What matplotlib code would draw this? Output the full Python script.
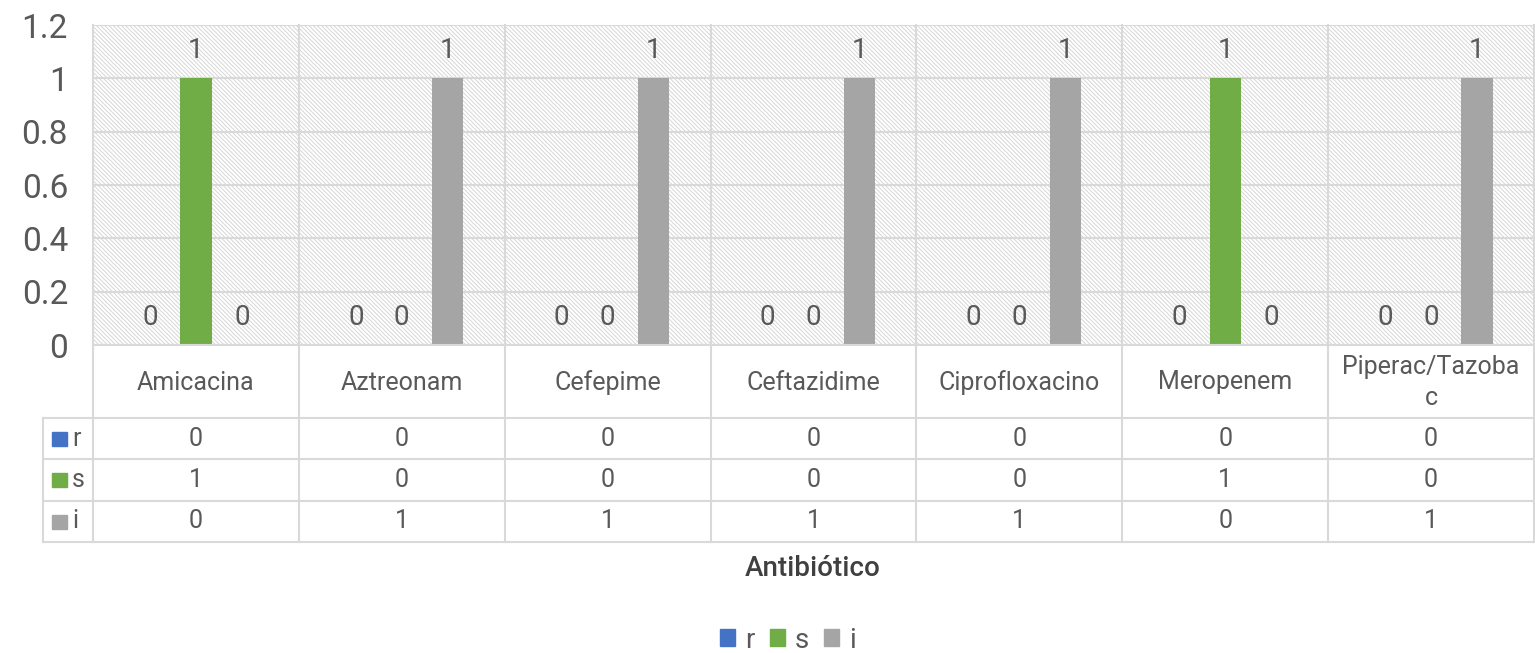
import matplotlib
matplotlib.use("Agg")
import matplotlib.pyplot as plt
import matplotlib.transforms as mtransforms
from matplotlib.lines import Line2D
from matplotlib.patches import Rectangle

categories = ["Amicacina", "Aztreonam", "Cefepime", "Ceftazidime",
              "Ciprofloxacino", "Meropenem", "Piperac/Tazoba\nc"]
series_names = ["r", "s", "i"]
r_vals = [0, 0, 0, 0, 0, 0, 0]
s_vals = [1, 0, 0, 0, 0, 1, 0]
i_vals = [0, 1, 1, 1, 1, 0, 1]
yticks = [0, 0.2, 0.4, 0.6, 0.8, 1.0, 1.2]
ytick_labels = ["0", "0.2", "0.4", "0.6", "0.8", "1", "1.2"]
x_title = "Antibiótico"

colors = ["#4472C4", "#70AD47", "#A5A5A5"]
txt = "#595959"
gridc = "#D9D9D9"
FONT = ["Roboto", "DejaVu Sans"]
plt.rcParams['font.family'] = FONT
plt.rcParams['hatch.linewidth'] = 0.7
plt.rcParams['hatch.color'] = "#D6D6D6"

W, H = 1535, 653
fig = plt.figure(figsize=(W / 100, H / 100), dpi=100)

def fx(x):
    return x / W

def fy(y):
    return 1 - y / H

left_px, right_px, top_px, bot_px = 93, 1534, 25, 345
ax = fig.add_axes([fx(left_px), fy(bot_px), fx(right_px) - fx(left_px), fy(top_px) - fy(bot_px)])
ax.set_xlim(-0.5, len(categories) - 0.5)
ax.set_ylim(0, 1.2)

# hatched background
bg = Rectangle((0, 0), 1, 1, transform=ax.transAxes, facecolor="white",
               edgecolor="#D6D6D6", hatch="\\" * 8, linewidth=0, zorder=0)
ax.add_patch(bg)

for s in ax.spines.values():
    s.set_visible(False)

for yt in yticks:
    ax.axhline(yt, color=gridc, lw=1.5, zorder=1)

ax.set_yticks(yticks)
ax.set_yticklabels(ytick_labels, fontsize=24, color=txt)
ax.tick_params(axis="y", length=0, pad=18)
ax.set_xticks([])

series = [r_vals, s_vals, i_vals]
offsets = [-0.223, 0.0, 0.223]
bw = 0.152
xs = list(range(len(categories)))
for k, (vals, off, c) in enumerate(zip(series, offsets, colors)):
    pos = [x + off for x in xs]
    ax.bar(pos, vals, width=bw, color=c, zorder=3)
    for p, v in zip(pos, vals):
        ax.annotate(f"{v:g}", (p, v), xytext=(0, 10), textcoords="offset points",
                    ha="center", va="bottom", fontsize=20, color=txt, zorder=4)

# data table
blend = mtransforms.blended_transform_factory(ax.transData, fig.transFigure)
row_edges = [345, 418, 459, 501, 542]
table_left = 43

def hline(y, x0, x1):
    fig.add_artist(Line2D([fx(x0), fx(x1)], [fy(y), fy(y)], color=gridc, lw=1.5))

def vline_data(xd, y0, y1):
    fig.add_artist(Line2D([xd, xd], [fy(y0), fy(y1)], transform=blend, color=gridc, lw=1.5))

hline(row_edges[0], left_px, right_px)
for y in row_edges[1:]:
    hline(y, table_left, right_px)
fig.add_artist(Line2D([fx(table_left)] * 2, [fy(418), fy(542)], color=gridc, lw=1.5))
fig.add_artist(Line2D([fx(left_px)] * 2, [fy(top_px), fy(542)], color=gridc, lw=1.5))
for b in range(1, len(categories) + 1):
    vline_data(b - 0.5, top_px, 542)

# category labels
cat_y = (row_edges[0] + row_edges[1]) / 2
for x, c in zip(xs, categories):
    fig.text(x, fy(cat_y + 1), c, transform=blend, ha="center", va="center",
             fontsize=18, color=txt, linespacing=1.4)

# values rows
for r, (name, vals, c) in enumerate(zip(series_names, series, colors)):
    yc = (row_edges[r + 1] + row_edges[r + 2]) / 2
    for x, v in zip(xs, vals):
        fig.text(x, fy(yc), f"{v:g}", transform=blend, ha="center", va="center",
                 fontsize=18, color=txt)
    fig.add_artist(Rectangle((fx(52), fy(yc + 7)), fx(15), 14 / H, color=c,
                             transform=fig.transFigure))
    fig.text(fx(72), fy(yc), name, ha="left", va="center", fontsize=18, color=txt)

# axis title
fig.text(fx(813), fy(568), x_title, ha="center", va="center", fontsize=20,
         color="#404040", fontweight="medium")

# legend
handles = [Rectangle((0, 0), 1, 1, color=c) for c in colors]
fig.legend(handles, series_names, loc="center", bbox_to_anchor=(fx(788), fy(640)),
           ncol=3, frameon=False, fontsize=20, handlelength=0.55, handleheight=0.55,
           handletextpad=0.35, columnspacing=0.55, labelcolor=txt)

fig.savefig("out.png", dpi=100)
